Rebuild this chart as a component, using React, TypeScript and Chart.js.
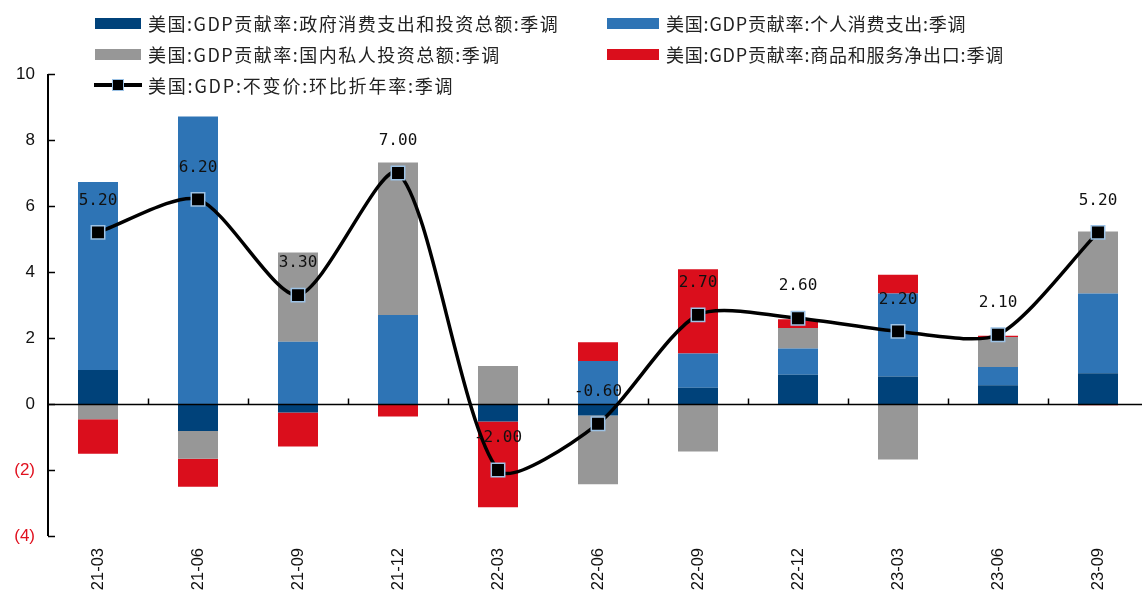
import React, { useEffect, useRef } from "react";
import { Chart, registerables } from "chart.js";

Chart.register(...registerables);

const categories = ["21-03", "21-06", "21-09", "21-12", "22-03", "22-06", "22-09", "22-12", "23-03", "23-06", "23-09"];
const govContribution = [1.03, -0.82, -0.26, 0.0, -0.53, -0.35, 0.49, 0.89, 0.83, 0.57, 0.93];
const pceContribution = [5.7, 8.71, 1.89, 2.7, 0.0, 1.3, 1.04, 0.79, 2.52, 0.55, 2.42];
const investContribution = [-0.46, -0.84, 2.7, 4.62, 1.15, -2.08, -1.44, 0.62, -1.68, 0.91, 1.88];
const netExportContribution = [-1.05, -0.85, -1.03, -0.38, -2.6, 0.57, 2.55, 0.27, 0.57, 0.04, -0.04];
const gdpGrowth = [5.2, 6.2, 3.3, 7.0, -2.0, -0.6, 2.7, 2.6, 2.2, 2.1, 5.2];
const yTickValues = [-4, -2, 0, 2, 4, 6, 8, 10];
const yTickLabels = ["(4)", "(2)", "0", "2", "4", "6", "8", "10"];

const seriesNames = [
  "美国:GDP贡献率:政府消费支出和投资总额:季调",
  "美国:GDP贡献率:个人消费支出:季调",
  "美国:GDP贡献率:国内私人投资总额:季调",
  "美国:GDP贡献率:商品和服务净出口:季调",
  "美国:GDP:不变价:环比折年率:季调",
];

const NAVY = "#00427A";
const BLUE = "#2E74B5";
const GRAY = "#979797";
const RED = "#DA0E1C";
const MARKER_BORDER = "#9CC2E5";

const CANVAS_W = 1170;
const CANVAS_H = 620;

const axesPlugin = {
  id: "customAxes",
  afterDatasetsDraw(chart: any) {
    const { ctx, chartArea, scales } = chart;
    const x = scales.x;
    const y = scales.y;
    ctx.save();
    const ax = chartArea.left;
    ctx.strokeStyle = "#000";
    ctx.lineWidth = 2;
    ctx.beginPath();
    ctx.moveTo(ax, y.getPixelForValue(10));
    ctx.lineTo(ax, y.getPixelForValue(-4));
    ctx.stroke();
    ctx.lineWidth = 1.5;
    yTickValues.forEach((v) => {
      const py = Math.round(y.getPixelForValue(v)) + 0.5;
      ctx.beginPath();
      ctx.moveTo(ax, py);
      ctx.lineTo(ax + 7, py);
      ctx.stroke();
    });
    const y0 = Math.round(y.getPixelForValue(0)) + 0.5;
    ctx.lineWidth = 1.5;
    ctx.beginPath();
    ctx.moveTo(ax, y0);
    ctx.lineTo(chartArea.right, y0);
    ctx.stroke();
    for (let i = 0; i < categories.length - 1; i++) {
      const bx = Math.round((x.getPixelForValue(i) + x.getPixelForValue(i + 1)) / 2) + 0.5;
      ctx.beginPath();
      ctx.moveTo(bx, y0);
      ctx.lineTo(bx, y0 - 6);
      ctx.stroke();
    }
    const meta = chart.getDatasetMeta(4);
    ctx.fillStyle = "#111";
    ctx.font = '16px "DejaVu Sans Mono", monospace';
    ctx.textAlign = "center";
    ctx.textBaseline = "middle";
    meta.data.forEach((pt: any, i: number) => {
      ctx.fillText(gdpGrowth[i].toFixed(2), pt.x, pt.y - 32);
    });
    ctx.restore();
  },
};

const legendTextStyle: any = {
  position: "absolute",
  height: 26,
  lineHeight: "26px",
  fontSize: 18,
  letterSpacing: "1.5px",
  fontFamily: '"Noto Sans CJK SC", sans-serif',
  color: "#222",
  whiteSpace: "nowrap",
};

function LegendBox({ color, left, boxW, top, textLeft, label, spacing }: any) {
  return (
    <>
      <div style={{ position: "absolute", left, top: top - 5.5, width: boxW, height: 11, background: color }} />
      <div style={{ ...legendTextStyle, left: textLeft, top: top - 13, letterSpacing: spacing }}>{label}</div>
    </>
  );
}

export default function App() {
  const canvasRef = useRef<HTMLCanvasElement | null>(null);

  useEffect(() => {
    document.body.style.overflow = "hidden";
    document.documentElement.style.overflow = "hidden";
    const canvas = canvasRef.current;
    if (!canvas) return;
    const chart = new Chart(canvas, {
      type: "bar",
      data: {
        labels: categories,
        datasets: [
          { label: seriesNames[0], data: govContribution, backgroundColor: NAVY, order: 1, stack: "c" } as any,
          { label: seriesNames[1], data: pceContribution, backgroundColor: BLUE, order: 1, stack: "c" },
          { label: seriesNames[2], data: investContribution, backgroundColor: GRAY, order: 1, stack: "c" },
          { label: seriesNames[3], data: netExportContribution, backgroundColor: RED, order: 1, stack: "c" },
          {
            type: "line",
            label: seriesNames[4],
            data: gdpGrowth,
            borderColor: "#000",
            borderWidth: 3.5,
            tension: 0.25,
            pointStyle: "rect",
            pointRadius: 9.5,
            pointBackgroundColor: "#000",
            pointBorderColor: MARKER_BORDER,
            pointBorderWidth: 1.5,
            order: 0,
            stack: "gdp",
          },
        ],
      },
      options: {
        animation: false,
        responsive: false,
        maintainAspectRatio: false,
        layout: { padding: { top: 74, right: 22, left: 0, bottom: 0 } },
        datasets: { bar: { barPercentage: 0.4, categoryPercentage: 1.0 } },
        plugins: { legend: { display: false }, tooltip: { enabled: false } },
        scales: {
          x: {
            stacked: true,
            grid: { display: false, drawTicks: false },
            border: { display: false },
            ticks: {
              autoSkip: false,
              minRotation: 90,
              maxRotation: 90,
              padding: 12,
              color: "#111",
              font: { size: 16.5, family: '"Liberation Sans", Arial, sans-serif' },
            },
            afterFit(scale: any) {
              scale.height = CANVAS_H - 536;
            },
          },
          y: {
            stacked: true,
            min: -4,
            max: 10,
            grid: { display: false, drawTicks: false },
            border: { display: false },
            afterBuildTicks(scale: any) {
              scale.ticks = yTickValues.map((v) => ({ value: v }));
            },
            ticks: {
              padding: 13,
              color: (c: any) => (c.tick && c.tick.value < 0 ? "#E0101E" : "#111"),
              font: { size: 17, family: '"Liberation Sans", Arial, sans-serif' },
              callback: (v: any) => {
                const idx = yTickValues.indexOf(Number(v));
                return idx >= 0 ? yTickLabels[idx] : "";
              },
            },
            afterFit(scale: any) {
              scale.width = 48;
            },
          },
        },
      },
      plugins: [axesPlugin],
    });
    return () => chart.destroy();
  }, []);

  return (
    <div style={{ position: "fixed", left: 0, top: 0, width: CANVAS_W, height: CANVAS_H, background: "#fff" }}>
      <canvas ref={canvasRef} width={CANVAS_W} height={CANVAS_H} style={{ width: CANVAS_W, height: CANVAS_H, display: "block" }} />
      <LegendBox color={NAVY} left={95} boxW={46} top={23} textLeft={148} label={seriesNames[0]} spacing="1.5px" />
      <LegendBox color={BLUE} left={607} boxW={52} top={23} textLeft={666} label={seriesNames[1]} spacing="0.8px" />
      <LegendBox color={GRAY} left={95} boxW={46} top={54} textLeft={148} label={seriesNames[2]} spacing="1.5px" />
      <LegendBox color={RED} left={607} boxW={52} top={54} textLeft={666} label={seriesNames[3]} spacing="0.8px" />
      <div style={{ position: "absolute", left: 94, top: 83, width: 48, height: 3.5, background: "#000" }} />
      <div
        style={{
          position: "absolute",
          left: 112,
          top: 79,
          width: 10,
          height: 10,
          background: "#000",
          border: `1.5px solid ${MARKER_BORDER}`,
        }}
      />
      <div style={{ ...legendTextStyle, left: 148, top: 72, letterSpacing: "1.8px" }}>{seriesNames[4]}</div>
    </div>
  );
}
